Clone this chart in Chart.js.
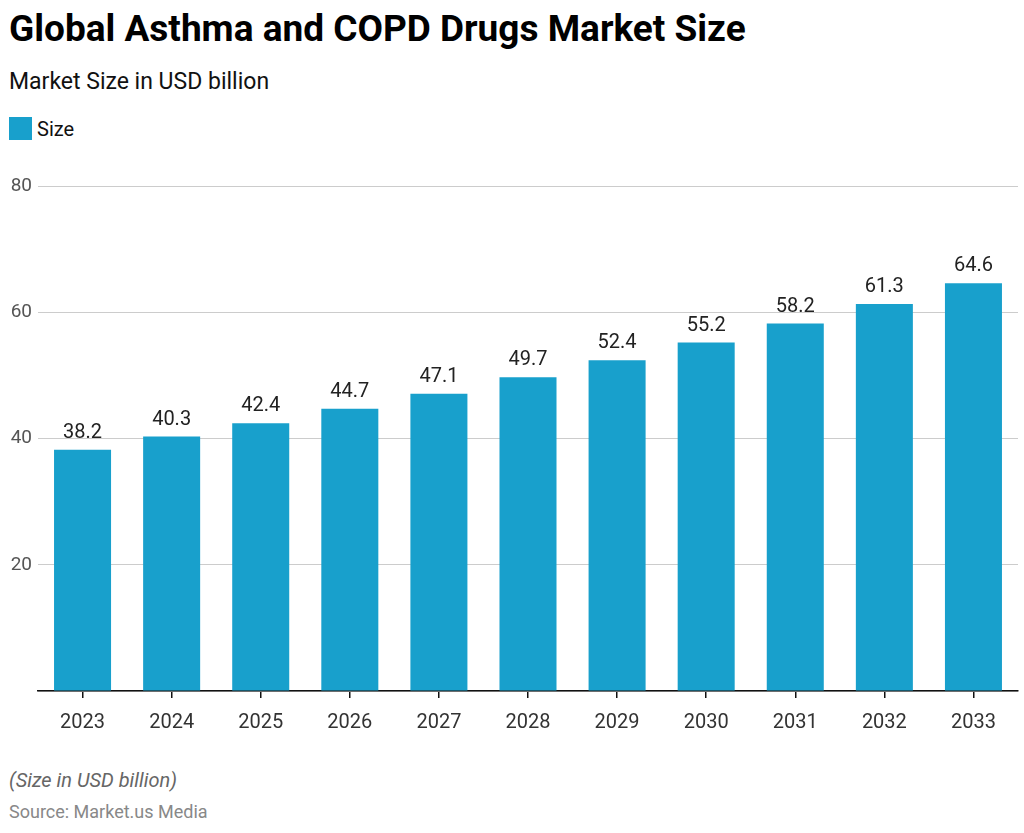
<!DOCTYPE html>
<html>
<head>
<meta charset="utf-8">
<script src="https://cdn.jsdelivr.net/npm/chart.js@4"></script>
<style>
  html,body{margin:0;padding:0;background:#fff;width:1024px;height:833px;overflow:hidden;font-family:Roboto,"Noto Sans",sans-serif;}
  .t{position:absolute;white-space:nowrap;}
  #title{left:9px;top:7px;font-size:37px;font-weight:700;color:#000;}
  #sub{left:9px;top:68px;font-size:23px;color:#111;}
  #leg{left:9px;top:115px;font-size:20px;color:#111;}
  #leg span.box{display:inline-block;width:23px;height:23px;background:#18a0cc;vertical-align:middle;margin-right:5px;}
  #leg span.lbl{vertical-align:middle;}
  #note{left:9px;top:768px;font-size:20px;font-style:italic;color:#666;}
  #src{left:9px;top:801px;font-size:18px;color:#888;}
  #wrap{position:absolute;left:0;top:160px;width:1024px;height:588px;}
</style>
</head>
<body>
<div class="t" id="title">Global Asthma and COPD Drugs Market Size</div>
<div class="t" id="sub">Market Size in USD billion</div>
<div class="t" id="leg"><span class="box"></span><span class="lbl">Size</span></div>
<div id="wrap"><canvas id="c" width="1024" height="588"></canvas></div>
<div class="t" id="note">(Size in USD billion)</div>
<div class="t" id="src">Source: Market.us Media</div>
<script>
const categories = ["2023","2024","2025","2026","2027","2028","2029","2030","2031","2032","2033"];
const sizeValues = [38.2,40.3,42.4,44.7,47.1,49.7,52.4,55.2,58.2,61.3,64.6];
const yTicks = [0,20,40,60,80];

const labelPlugin = {
  id: 'vals',
  afterDatasetsDraw(chart){
    const ctx = chart.ctx;
    const meta = chart.getDatasetMeta(0);
    ctx.save();
    ctx.font = '20px Roboto, "Noto Sans", sans-serif';
    ctx.fillStyle = '#222';
    ctx.textAlign = 'center';
    ctx.textBaseline = 'bottom';
    meta.data.forEach((bar,i)=>{
      ctx.fillText(sizeValues[i].toFixed(1), bar.x, bar.y - 7);
    });
    ctx.restore();
  }
};

new Chart(document.getElementById('c'), {
  type: 'bar',
  data: {
    labels: categories,
    datasets: [{
      label: 'Size',
      data: sizeValues,
      backgroundColor: '#18a0cc',
      barPercentage: 0.64,
      categoryPercentage: 1.0
    }]
  },
  options: {
    responsive: false,
    animation: false,
    devicePixelRatio: 1,
    layout: {padding: {left: 0, right: 6, top: 26, bottom: 0}},
    plugins: {legend: {display: false}, tooltip: {enabled: false}, title: {display: false}},
    scales: {
      x: {
        grid: {offset: false, drawOnChartArea: false, drawTicks: true, tickLength: 7, color: '#111', lineWidth: 1.5},
        border: {display: true, color: '#111', width: 1.5},
        ticks: {color: '#333', font: {size: 20, family: 'Roboto'}, padding: 13, maxRotation: 0}
      },
      y: {
        min: 0, max: 80,
        afterBuildTicks(axis){ axis.ticks = yTicks.map(v=>({value:v})); },
        afterFit(axis){ axis.width = 38; },
        grid: {color: '#cccccc', lineWidth: 1, drawTicks: false},
        border: {display: false},
        ticks: {
          color: '#555', font: {size: 19, family: 'Roboto'}, padding: 6,
          callback: (v)=> v === 0 ? '' : String(v)
        }
      }
    }
  },
  plugins: [labelPlugin]
});
</script>
</body>
</html>
